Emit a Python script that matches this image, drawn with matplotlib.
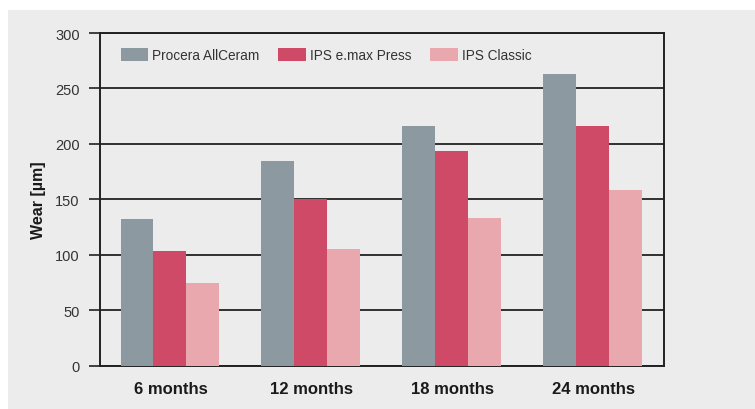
import matplotlib
matplotlib.use('Agg')
import matplotlib.pyplot as plt
from matplotlib.patches import Rectangle
import numpy as np

# --- DADOS ---
categorias = ['6 months', '12 months', '18 months', '24 months']
series = ['Procera AllCeram', 'IPS e.max Press', 'IPS Classic']
procera = [132, 185, 216, 263]
emax = [103, 150, 194, 216]
classic = [75, 105, 133, 158]
yticks = [0, 50, 100, 150, 200, 250, 300]

cores = ['#8C99A1', '#CF4A66', '#E9A8AD']
fundo = '#EBECEB'

plt.rcParams['font.family'] = ['Liberation Sans Narrow', 'Liberation Sans', 'DejaVu Sans']

fig = plt.figure(figsize=(7.55, 4.10), dpi=100)
fig.patch.set_facecolor('white')
# painel cinza de fundo
fig.add_artist(Rectangle((8 / 755, 0), 1, 1 - 11 / 410, transform=fig.transFigure,
                         facecolor=fundo, edgecolor='none', zorder=-10))

ax = fig.add_axes([100 / 755, 1 - 366.7 / 410, 563.7 / 755, 332.7 / 410])
ax.set_facecolor(fundo)

x = np.arange(len(categorias))
w = 0.233
for i, (vals, nome) in enumerate(zip([procera, emax, classic], series)):
    ax.bar(x + (i - 1) * w - 0.005, vals, width=w, color=cores[i], label=nome, zorder=3)

ax.set_xlim(-0.5, 3.5)
ax.set_ylim(0, 300)
ax.set_yticks(yticks)
ax.set_xticks(x)
ax.set_xticklabels(categorias, fontsize=12, fontweight='bold', color='#1a1a1a')
ax.tick_params(axis='x', length=0, pad=11)
ax.tick_params(axis='y', length=8, width=1.2, color='#222222', labelsize=10.5,
               labelcolor='#333333', pad=6.5)

ax.yaxis.grid(True, color='#111111', linewidth=1.2, zorder=1)
ax.set_axisbelow(True)
for s in ['left', 'right', 'top', 'bottom']:
    ax.spines[s].set_color('#222222')
    ax.spines[s].set_linewidth(1.4)

ax.set_ylabel('Wear [µm]', fontsize=11.5, fontweight='bold', color='#1a1a1a', labelpad=7)

leg = ax.legend(loc='upper left', ncol=3, frameon=False, fontsize=9.8,
                bbox_to_anchor=(0.037, 0.955), borderaxespad=0, borderpad=0,
                handlelength=2.0, handleheight=1.1,
                handletextpad=0.3, columnspacing=1.4, labelcolor='#333333')

fig.savefig('out.png', dpi=100, facecolor=fig.get_facecolor())
